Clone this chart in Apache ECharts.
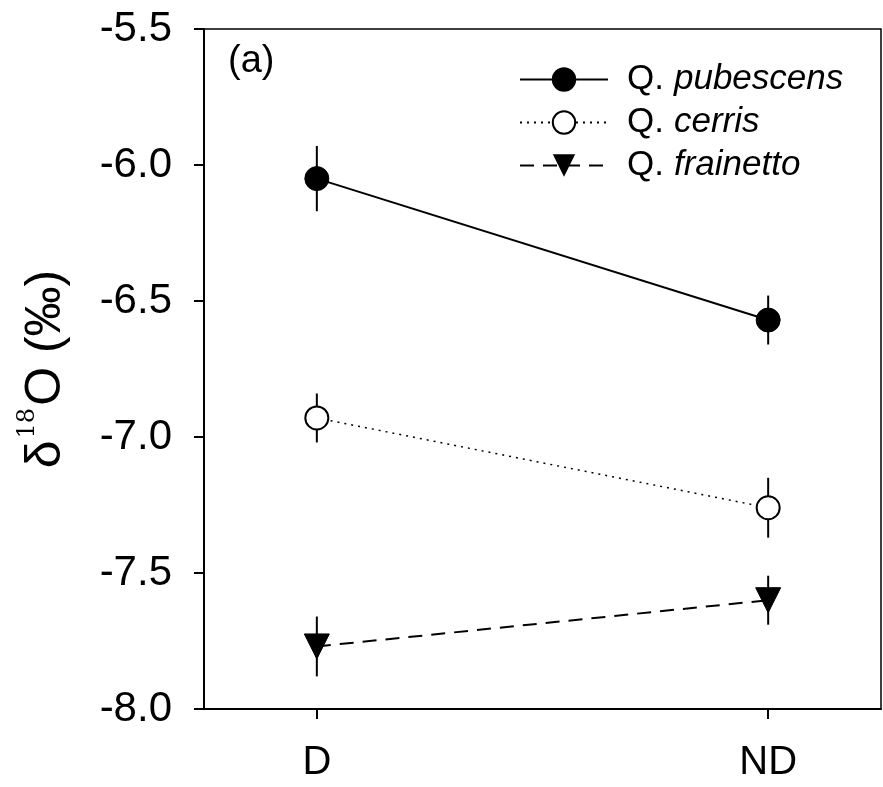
<!DOCTYPE html>
<html>
<head>
<meta charset="utf-8">
<script src="https://cdn.jsdelivr.net/npm/echarts@6/dist/echarts.min.js"></script>
<style>
  html, body { margin: 0; padding: 0; background: #fff; }
  #chart { width: 883px; height: 787px; }
</style>
</head>
<body>
<div id="chart"></div>
<script>
// treatments on the x axis, placed at 0.5 and 2.5 of a 0..3 axis
const groups = ['D', 'ND'];
const groupPos = [0.5, 2.5];

// mean d18O and error (+/-) per species
const pubescens = [-6.05, -6.57];
const pubescensErr = [0.12, 0.09];
const cerris = [-6.93, -7.26];
const cerrisErr = [0.09, 0.11];
const frainetto = [-7.77, -7.60];
const frainettoErr = [0.11, 0.09];

const yTicks = [-8.0, -7.5, -7.0, -6.5, -6.0, -5.5];

const font = 'Liberation Sans, Arial, sans-serif';

function pts(vals) {
  return vals.map((v, i) => [groupPos[i], v]);
}
function errPts(vals, errs) {
  return vals.map((v, i) => [groupPos[i], v - errs[i], v + errs[i]]);
}

function errorSeries(vals, errs) {
  return {
    type: 'custom',
    z: 1,
    silent: true,
    data: errPts(vals, errs),
    renderItem: function (params, api) {
      const lo = api.coord([api.value(0), api.value(1)]);
      const hi = api.coord([api.value(0), api.value(2)]);
      return {
        type: 'line',
        shape: { x1: lo[0], y1: lo[1], x2: hi[0], y2: hi[1] },
        style: { stroke: '#000', lineWidth: 2 }
      };
    }
  };
}

const chart = echarts.init(document.getElementById('chart'));
chart.setOption({
  animation: false,
  backgroundColor: '#fff',
  grid: {
    left: 204, right: 2, top: 29, bottom: 78,
    show: true, borderColor: '#000', borderWidth: 1.5
  },
  xAxis: {
    type: 'value',
    min: 0, max: 3,
    splitLine: { show: false },
    axisLine: { show: true, lineStyle: { color: '#000', width: 2 } },
    axisTick: { show: true, customValues: groupPos, length: 10, lineStyle: { color: '#000', width: 2 } },
    axisLabel: {
      customValues: groupPos,
      formatter: v => groups[groupPos.indexOf(v)] || '',
      color: '#000', fontSize: 40, fontFamily: font, margin: 34
    }
  },
  yAxis: {
    type: 'value',
    min: yTicks[0], max: yTicks[yTicks.length - 1], interval: 0.5,
    splitLine: { show: false },
    axisLine: { show: true, lineStyle: { color: '#000', width: 2 } },
    axisTick: { show: true, length: 10, lineStyle: { color: '#000', width: 2 } },
    axisLabel: {
      formatter: v => v.toFixed(1),
      color: '#000', fontSize: 42, fontFamily: font, margin: 32
    },
    name: '{a|δ}{s|18}{a|O (‰)}',
    nameLocation: 'middle',
    nameGap: 128,
    nameRotate: 90,
    nameTextStyle: {
      rich: {
        a: { fontSize: 50, fontFamily: font, color: '#000', lineHeight: 60 },
        s: { fontSize: 24, fontFamily: 'DejaVu Serif, serif', color: '#000', verticalAlign: 'top', lineHeight: 24, padding: [0, 2, 0, 2] }
      }
    }
  },
  legend: {
    orient: 'vertical',
    left: 514,
    top: 57,
    itemWidth: 88,
    itemHeight: 28,
    itemGap: 8,
    data: ['Q. pubescens', 'Q. cerris', 'Q. frainetto'],
    formatter: name => '{n|Q.}{i|' + name.slice(3) + '}',
    textStyle: {
      padding: [0, 0, 0, 14],
      rich: {
        n: { fontSize: 35, fontFamily: font, color: '#000', lineHeight: 40, padding: [0, 10, 0, 0] },
        i: { fontSize: 35, fontFamily: font, fontStyle: 'italic', color: '#000', lineHeight: 40 }
      }
    }
  },
  graphic: [{
    type: 'text', left: 228, top: 43,
    style: { text: '(a)', fontSize: 38, fontFamily: font, fill: '#000' }
  }],
  series: [
    errorSeries(pubescens, pubescensErr),
    errorSeries(cerris, cerrisErr),
    errorSeries(frainetto, frainettoErr),
    {
      name: 'Q. pubescens', type: 'line', z: 3,
      data: pts(pubescens),
      symbol: 'circle', symbolSize: 24,
      itemStyle: { color: '#000', borderColor: '#000', borderWidth: 1 },
      lineStyle: { color: '#000', width: 2, type: 'solid' }
    },
    {
      name: 'Q. cerris', type: 'line', z: 3,
      data: pts(cerris),
      symbol: 'circle', symbolSize: 23,
      itemStyle: { color: '#fff', borderColor: '#000', borderWidth: 2 },
      lineStyle: { color: '#000', width: 1.5, type: [2, 5] }
    },
    {
      name: 'Q. frainetto', type: 'line', z: 3,
      data: pts(frainetto),
      symbol: 'triangle', symbolSize: 25, symbolRotate: 180,
      itemStyle: { color: '#000', borderColor: '#000' },
      lineStyle: { color: '#000', width: 2, type: [14, 9] }
    }
  ]
});
</script>
</body>
</html>
